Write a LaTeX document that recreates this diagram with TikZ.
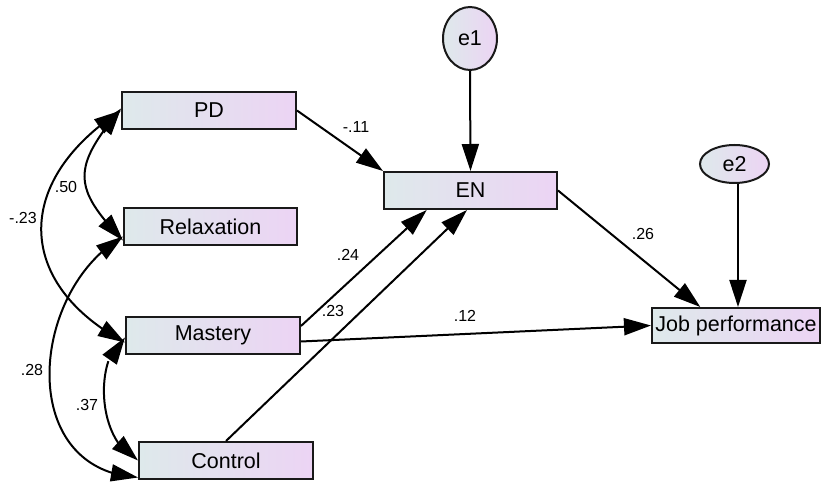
\documentclass[tikz,border=0pt]{standalone}
\usepackage{fontspec}
\setmainfont{Liberation Sans}
\usetikzlibrary{arrows.meta,calc,shapes.geometric,bending}

\definecolor{boxleft}{RGB}{222,233,235}
\definecolor{boxright}{RGB}{236,212,244}

\begin{document}
\begin{tikzpicture}[x=1pt,y=-1pt,
  var/.style={draw=black!90, line width=2pt, rectangle, inner sep=0pt,
    left color=boxleft, right color=boxright,
    font=\fontsize{21.5}{24}\selectfont},
  err/.style={draw=black!90, line width=2pt, ellipse, inner sep=0pt,
    left color=boxleft, right color=boxright,
    font=\fontsize{21.5}{24}\selectfont},
  tip/.tip={Triangle[length=27pt,width=17pt]},
  reg/.style={line width=2pt, -tip},
  cov/.style={line width=2pt, tip-tip},
  coef/.style={font=\fontsize{16}{18}\selectfont, inner sep=0pt}
]
\useasboundingbox (0,0) rectangle (823,489);

% observed variables
\node[var, minimum width=174pt, minimum height=37pt] (PD)      at (209,110.5) {PD};
\node[var, minimum width=173pt, minimum height=37pt] (Relax)   at (210.5,226.5) {Relaxation};
\node[var, minimum width=174pt, minimum height=37pt] (Mastery) at (213,335.5) {Mastery};
\node[var, minimum width=174pt, minimum height=37pt] (Control) at (226,460.5) {Control};
\node[var, minimum width=173pt, minimum height=37pt] (EN)      at (470.5,190.5) {EN};
\node[var, minimum width=168pt, minimum height=35pt] (JP)      at (736,325.5) {Job performance};

% error terms
\node[err, minimum width=54pt, minimum height=63pt] (e1) at (470,38.5) {e1};
\node[err, minimum width=69pt, minimum height=38pt] (e2) at (734.5,164) {e2};

% regression paths
\draw[reg] (e1.south) -- (EN.north);
\draw[reg] ([xshift=3.5pt]e2.south) -- ([xshift=3.5pt]e2.south |- JP.north);
\draw[reg] (PD.east) -- (EN.north west);
\draw[reg] (EN.east) -- ($(JP.north west)!0.29!(JP.north east)$);
\draw[reg] ([yshift=-6pt]Mastery.east) -- (JP.west);
\draw[reg] ([yshift=-10pt]Mastery.north east) -- ($(EN.south west)!0.25!(EN.south east)$);
\draw[reg] (Control.north) -- ($(EN.south west)!0.48!(EN.south east)$);

% covariances
\draw[cov] ([yshift=2pt]PD.west) .. controls (72,168) and (72,187) .. ([yshift=-14pt]Relax.west);
\draw[cov] (PD.west) .. controls (12,182) and (16,284) .. ([yshift=-7pt]Mastery.west);
\draw[cov] ([yshift=-10pt]Relax.west) .. controls (30,290) and (15,470) .. ([yshift=-17pt]Control.west);
\draw[cov] ([yshift=-2pt]Mastery.west) .. controls (95,355) and (95,440) .. (Control.west);

% coefficients
\node[coef] (c1) at (356,127) {-.11};
\node[coef] (c2) at (643,234) {.26};
\node[coef] (c3) at (465,316) {.12};
\node[coef] (c4) at (348,255) {.24};
\node[coef] (c5) at (333,311) {.23};
\node[coef] (c6) at (66,187) {.50};
\node[coef] (c7) at (23,218) {-.23};
\node[coef] (c8) at (32,370) {.28};
\node[coef] (c9) at (87,405) {.37};
\end{tikzpicture}
\end{document}
